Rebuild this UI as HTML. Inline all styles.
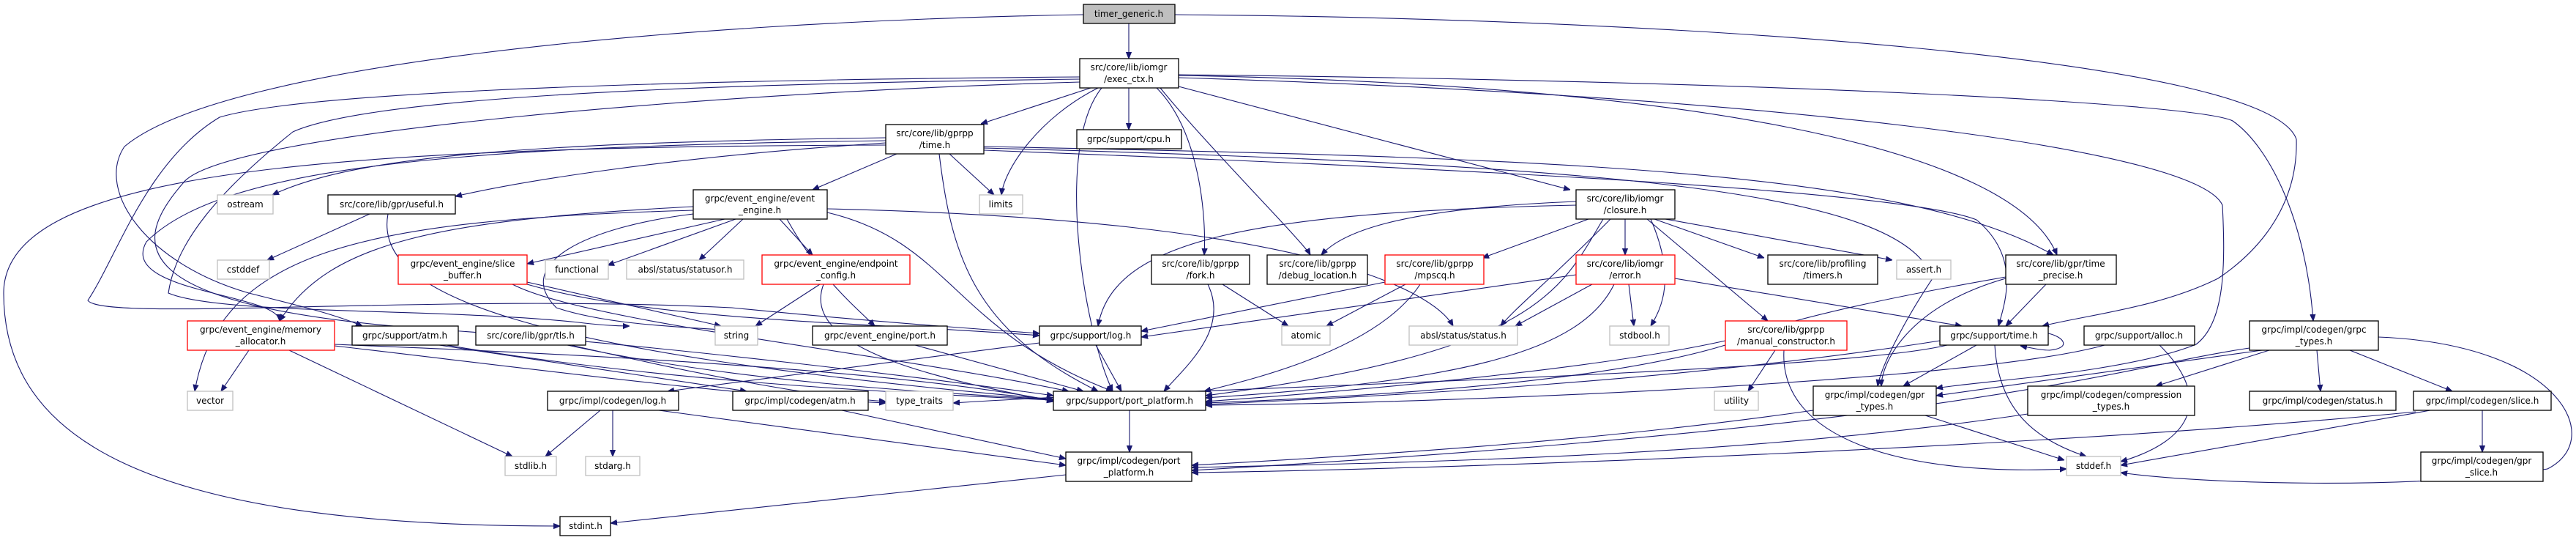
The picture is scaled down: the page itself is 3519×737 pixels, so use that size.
<!DOCTYPE html>
<html><head><meta charset="utf-8"><style>
html,body{margin:0;padding:0;background:#fff;}
svg{display:block;}
text{font-family:"DejaVu Sans","Liberation Sans",sans-serif;font-size:12px;fill:#000;text-anchor:middle;}
.b{fill:#fff;stroke:#000;stroke-width:1.3}
.g{fill:#fff;stroke:#bfbfbf;stroke-width:1.3}
.r{fill:#fff;stroke:#ff0000;stroke-width:1.3}
path{fill:none;stroke:#191970;stroke-width:1.1}
</style></head><body>
<svg width="3519" height="737" viewBox="0 0 3519 737" xmlns="http://www.w3.org/2000/svg">
<defs><marker id="a" viewBox="0 0 10 10" refX="10" refY="5" markerWidth="9" markerHeight="9" orient="auto" markerUnits="userSpaceOnUse"><path d="M0,1 L10,5 L0,9 z" style="fill:#191970;stroke:#191970"/></marker></defs>
<g marker-end="url(#a)">
<!-- timer_generic -->
<path d="M1542,32 L1542,80"/>
<path d="M1480,20 C900,30 300,90 170,200 C130,260 200,360 340,400 C420,420 460,430 495,445"/>
<path d="M1605,20 C2300,25 3100,80 3137,190 C3140,300 3060,360 3030,380 C2950,420 2850,430 2790,445"/>
<!-- exec_ctx -->
<path d="M1490,120 L1340,169"/>
<path d="M1542,120 L1542,177"/>
<path d="M1500,120 C1420,160 1372,230 1368,266"/>
<path d="M1580,120 C1640,180 1648,300 1645,348"/>
<path d="M1585,120 C1650,200 1780,330 1790,348"/>
<path d="M1610,118 L2145,259"/>
<path d="M1505,120 C1440,200 1480,450 1520,534"/>
<path d="M1610,103 C2300,115 2750,200 2810,348"/>
<path d="M1610,102 C2400,110 3000,140 3050,165 C3100,200 3150,300 3160,438"/>
<path d="M1610,106 C2400,130 3000,200 3036,280 C3040,360 3040,440 3000,470 C2900,510 2700,520 2645,530"/>
<path d="M1475,105 C800,110 400,130 300,160 C200,220 160,350 120,410 C140,440 600,400 1000,420 C1200,440 1350,450 1420,455"/>
<path d="M1475,108 C900,115 500,135 400,180 C300,260 240,330 230,400 C300,430 600,420 790,440 C830,445 850,445 860,445"/>
<path d="M1475,112 C1000,125 300,180 250,250 C180,330 160,420 600,450 C900,470 1300,520 1439,540"/>
<!-- gprpp/time -->
<path d="M1210,188 C700,195 480,215 372,266"/>
<path d="M1210,195 C900,215 700,250 622,268"/>
<path d="M1225,210 L1110,259"/>
<path d="M1297,210 L1358,266"/>
<path d="M1210,198 C400,200 5,240 5,400 C5,600 200,718 765,718"/>
<path d="M1283,210 C1300,350 1330,450 1500,534"/>
<path d="M1344,200 C2100,215 2600,230 2805,348"/>
<path d="M1344,205 C2000,230 2600,260 2700,300 C2760,350 2740,410 2730,445"/>
<path d="M1344,202 C2200,225 2600,260 2640,380 C2600,440 2570,500 2565,527"/>
<path d="M1210,192 C600,200 300,230 200,330 C160,400 380,400 382,438"/>
<!-- event_engine -->
<path d="M990,299 L720,360"/>
<path d="M1005,299 L830,362"/>
<path d="M1015,299 L955,355"/>
<path d="M1065,299 L1110,348"/>
<path d="M1075,299 C1120,380 1170,420 1195,445"/>
<path d="M947,282 C600,300 450,330 382,438"/>
<path d="M947,287 C500,300 300,340 266,534"/>
<path d="M1130,290 C1300,330 1300,450 1520,534"/>
<path d="M1130,285 C1800,300 1960,400 1985,445"/>
<path d="M947,292 C800,310 700,360 760,420 C820,440 900,445 985,450"/>
<!-- useful -->
<path d="M505,292 L365,355"/>
<path d="M530,292 C510,400 700,480 1439,545"/>
<!-- slice_buffer -->
<path d="M720,385 L985,445"/>
<path d="M720,388 C900,440 1200,440 1420,458"/>
<path d="M700,388 C800,440 1200,480 1460,534"/>
<!-- endpoint_config -->
<path d="M1120,388 L1032,445"/>
<path d="M1125,388 C1090,480 1300,520 1439,548"/>
<!-- memory allocator -->
<path d="M340,478 L302,534"/>
<path d="M395,478 L700,623"/>
<path d="M457,470 C700,480 1200,500 1439,547"/>
<path d="M457,472 C700,500 1000,540 1210,550"/>
<!-- atm / tls -->
<path d="M600,471 L1020,534"/>
<path d="M610,471 C900,520 1200,535 1439,546"/>
<path d="M775,471 C1000,520 1250,535 1439,545"/>
<path d="M780,471 C950,510 1100,540 1210,548"/>
<!-- event_engine/port -->
<path d="M1250,471 L1480,534"/>
<!-- log -->
<path d="M1497,471 L1532,534"/>
<path d="M1420,468 L912,534"/>
<!-- codegen log/atm -->
<path d="M820,560 L745,623"/>
<path d="M837,560 L837,623"/>
<path d="M900,560 L1456,635"/>
<path d="M1150,560 L1456,626"/>
<!-- port_platform -->
<path d="M1543,560 L1543,617"/>
<path d="M1456,648 L834,714"/>
<!-- fork -->
<path d="M1670,388 L1760,445"/>
<path d="M1650,388 C1680,450 1620,500 1590,534"/>
<!-- mpscq -->
<path d="M1920,388 L1812,445"/>
<path d="M1892,385 L1559,452"/>
<path d="M1940,388 C1880,480 1700,520 1645,534"/>
<!-- closure -->
<path d="M2153,275 C1900,285 1830,320 1805,348"/>
<path d="M2170,299 L2025,352"/>
<path d="M2220,299 L2220,348"/>
<path d="M2260,299 L2410,352"/>
<path d="M2275,299 L2585,355"/>
<path d="M2255,299 C2290,380 2270,420 2255,445"/>
<path d="M2153,280 C1700,290 1520,330 1500,445"/>
<path d="M2190,299 C2130,400 2100,480 1647,540"/>
<path d="M2250,299 L2415,438"/>
<path d="M2200,299 C2120,380 2070,420 2050,445"/>
<!-- error -->
<path d="M2153,375 L1559,460"/>
<path d="M2175,388 L2070,445"/>
<path d="M2225,388 L2232,445"/>
<path d="M2205,388 C2160,480 2000,520 1647,543"/>
<path d="M2288,380 L2680,445"/>
<!-- manual_constructor -->
<path d="M2425,478 L2388,534"/>
<path d="M2437,478 C2430,600 2600,650 2823,640"/>
<path d="M2357,465 C2200,500 1900,530 1647,548"/>
<!-- time_precise -->
<path d="M2795,388 L2740,445"/>
<path d="M2740,380 C2600,420 2570,500 2570,527"/>
<path d="M2740,378 C2500,420 2400,450 2360,470 C2200,520 1900,540 1647,550"/>
<!-- support/time -->
<path d="M2700,471 L2600,527"/>
<path d="M2725,471 C2730,560 2780,600 2850,623"/>
<path d="M2650,465 C2300,520 1900,540 1647,552"/>
<path d="M2798,455 C2820,460 2830,475 2800,478 C2790,478 2780,476 2760,472"/>
<path d="M2660,471 C2500,510 1600,530 1302,550"/>
<!-- alloc -->
<path d="M2950,471 C3020,540 3000,600 2897,630"/>
<path d="M2875,471 C2700,520 2000,550 1647,553"/>
<!-- grpc_types -->
<path d="M3090,478 L2645,540"/>
<path d="M3100,478 L2945,527"/>
<path d="M3165,478 L3170,534"/>
<path d="M3210,478 L3350,534"/>
<path d="M3249,460 C3500,470 3560,600 3480,640 C3300,670 3000,660 2897,645"/>
<path d="M3073,475 C2900,500 2700,580 1628,642"/>
<!-- gpr_types / compression / slice -->
<path d="M2630,567 L2820,628"/>
<path d="M2477,560 C2200,600 1900,620 1628,635"/>
<path d="M2770,565 C2400,620 2000,630 1628,638"/>
<path d="M3391,560 L3391,617"/>
<path d="M3320,560 L2897,635"/>
<path d="M3300,562 C2800,610 2000,640 1628,645"/>
</g>
<!-- nodes -->
<rect x="1480" y="6" width="125" height="26" style="fill:#bfbfbf;stroke:#000;stroke-width:1.3"/><text x="1542" y="23">timer_generic.h</text>
<rect class="b" x="1475" y="80" width="135" height="40"/><text x="1542" y="96">src/core/lib/iomgr</text><text x="1542" y="112">/exec_ctx.h</text>
<rect class="b" x="1210" y="170" width="134" height="40"/><text x="1277" y="186">src/core/lib/gprpp</text><text x="1277" y="202">/time.h</text>
<rect class="b" x="1471" y="177" width="143" height="26"/><text x="1542" y="194">grpc/support/cpu.h</text>
<rect class="g" x="1338" y="266" width="59" height="26"/><text x="1367" y="283">limits</text>
<rect class="b" x="2153" y="259" width="135" height="40"/><text x="2220" y="275">src/core/lib/iomgr</text><text x="2220" y="291">/closure.h</text>
<rect class="b" x="1573" y="348" width="134" height="40"/><text x="1640" y="364">src/core/lib/gprpp</text><text x="1640" y="380">/fork.h</text>
<rect class="b" x="1731" y="348" width="137" height="40"/><text x="1800" y="364">src/core/lib/gprpp</text><text x="1800" y="380">/debug_location.h</text>
<rect class="r" x="1892" y="348" width="135" height="40"/><text x="1960" y="364">src/core/lib/gprpp</text><text x="1960" y="380">/mpscq.h</text>
<rect class="r" x="2153" y="348" width="135" height="40"/><text x="2220" y="364">src/core/lib/iomgr</text><text x="2220" y="380">/error.h</text>
<rect class="r" x="1041" y="348" width="202" height="40"/><text x="1142" y="364">grpc/event_engine/endpoint</text><text x="1142" y="380">_config.h</text>
<rect class="g" x="297" y="266" width="76" height="26"/><text x="335" y="283">ostream</text>
<rect class="b" x="448" y="266" width="174" height="26"/><text x="535" y="283">src/core/lib/gpr/useful.h</text>
<rect class="b" x="947" y="259" width="183" height="40"/><text x="1038" y="275">grpc/event_engine/event</text><text x="1038" y="291">_engine.h</text>
<rect class="g" x="297" y="355" width="71" height="26"/><text x="332" y="372">cstddef</text>
<rect class="r" x="544" y="348" width="176" height="40"/><text x="632" y="364">grpc/event_engine/slice</text><text x="632" y="380">_buffer.h</text>
<rect class="g" x="745" y="355" width="86" height="26"/><text x="788" y="372">functional</text>
<rect class="g" x="856" y="355" width="160" height="26"/><text x="936" y="372">absl/status/statusor.h</text>
<rect class="r" x="256" y="438" width="201" height="40"/><text x="356" y="454">grpc/event_engine/memory</text><text x="356" y="470">_allocator.h</text>
<rect class="b" x="481" y="445" width="145" height="26"/><text x="553" y="462">grpc/support/atm.h</text>
<rect class="b" x="650" y="445" width="150" height="26"/><text x="725" y="462">src/core/lib/gpr/tls.h</text>
<rect class="g" x="977" y="445" width="58" height="26"/><text x="1006" y="462">string</text>
<rect class="b" x="1110" y="445" width="184" height="26"/><text x="1202" y="462">grpc/event_engine/port.h</text>
<rect class="g" x="256" y="534" width="62" height="26"/><text x="287" y="551">vector</text>
<rect class="b" x="748" y="534" width="179" height="26"/><text x="837" y="551">grpc/impl/codegen/log.h</text>
<rect class="b" x="1001" y="534" width="185" height="26"/><text x="1093" y="551">grpc/impl/codegen/atm.h</text>
<rect class="g" x="690" y="623" width="70" height="26"/><text x="725" y="640">stdlib.h</text>
<rect class="g" x="800" y="623" width="74" height="26"/><text x="837" y="640">stdarg.h</text>
<rect class="b" x="765" y="705" width="69" height="26"/><text x="800" y="722">stdint.h</text>
<rect class="b" x="1420" y="445" width="139" height="26"/><text x="1490" y="462">grpc/support/log.h</text>
<rect class="g" x="1751" y="445" width="66" height="26"/><text x="1784" y="462">atomic</text>
<rect class="g" x="1925" y="445" width="148" height="26"/><text x="1999" y="462">absl/status/status.h</text>
<rect class="g" x="2199" y="445" width="81" height="26"/><text x="2240" y="462">stdbool.h</text>
<rect class="g" x="1210" y="534" width="92" height="26"/><text x="1256" y="551">type_traits</text>
<rect class="b" x="1439" y="534" width="208" height="26"/><text x="1543" y="551">grpc/support/port_platform.h</text>
<rect class="b" x="1456" y="617" width="172" height="40"/><text x="1542" y="633">grpc/impl/codegen/port</text><text x="1542" y="649">_platform.h</text>
<rect class="g" x="2342" y="534" width="60" height="26"/><text x="2372" y="551">utility</text>
<rect class="b" x="2415" y="348" width="150" height="40"/><text x="2490" y="364">src/core/lib/profiling</text><text x="2490" y="380">/timers.h</text>
<rect class="g" x="2591" y="355" width="74" height="26"/><text x="2628" y="372">assert.h</text>
<rect class="b" x="2740" y="348" width="151" height="40"/><text x="2815" y="364">src/core/lib/gpr/time</text><text x="2815" y="380">_precise.h</text>
<rect class="r" x="2357" y="438" width="166" height="40"/><text x="2440" y="454">src/core/lib/gprpp</text><text x="2440" y="470">/manual_constructor.h</text>
<rect class="b" x="2650" y="445" width="148" height="26"/><text x="2724" y="462">grpc/support/time.h</text>
<rect class="b" x="2847" y="445" width="151" height="26"/><text x="2922" y="462">grpc/support/alloc.h</text>
<rect class="b" x="3073" y="438" width="176" height="40"/><text x="3161" y="454">grpc/impl/codegen/grpc</text><text x="3161" y="470">_types.h</text>
<rect class="b" x="2477" y="527" width="168" height="40"/><text x="2561" y="543">grpc/impl/codegen/gpr</text><text x="2561" y="559">_types.h</text>
<rect class="b" x="2770" y="527" width="228" height="40"/><text x="2884" y="543">grpc/impl/codegen/compression</text><text x="2884" y="559">_types.h</text>
<rect class="b" x="3073" y="534" width="200" height="26"/><text x="3173" y="551">grpc/impl/codegen/status.h</text>
<rect class="b" x="3297" y="534" width="188" height="26"/><text x="3391" y="551">grpc/impl/codegen/slice.h</text>
<rect class="g" x="2823" y="623" width="74" height="26"/><text x="2860" y="640">stddef.h</text>
<rect class="b" x="3307" y="617" width="167" height="40"/><text x="3390" y="633">grpc/impl/codegen/gpr</text><text x="3390" y="649">_slice.h</text>
</svg>
</body></html>
